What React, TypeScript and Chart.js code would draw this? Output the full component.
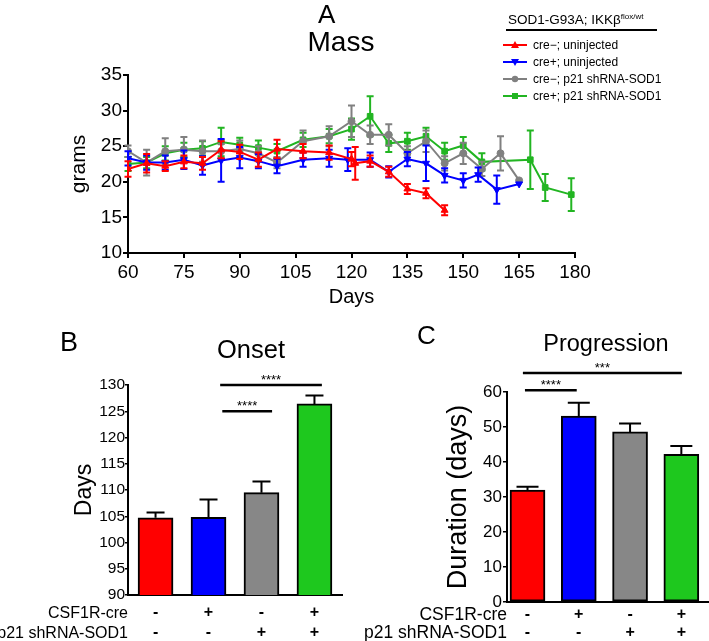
import React, { useEffect, useRef } from 'react';
import { Chart, registerables } from 'chart.js';

Chart.register(...registerables);

const FONT = "'Liberation Sans', Arial, Helvetica, sans-serif";
Chart.defaults.font.family = FONT;
Chart.defaults.color = '#000';

// ---------- Panel A: Mass ----------
const seriesLabels = ['cre\u2212; uninjected', 'cre+; uninjected', 'cre\u2212; p21 shRNA-SOD1', 'cre+; p21 shRNA-SOD1'];
const seriesColors = ['#FF0000', '#0000FF', '#808080', '#22B522'];

const redDays = [60, 65, 70, 75, 80, 85, 90, 95, 100, 107, 114, 120, 121, 125, 130, 135, 140, 145];
const redMass = [21.8, 22.6, 22.2, 22.8, 22.6, 24.5, 24.2, 23.1, 24.6, 24.3, 24.1, 23.2, 22.6, 22.9, 21.4, 19.0, 18.4, 16.0];
const redErr = [1.1, 1.3, 0.7, 0.9, 0.9, 1.2, 1.0, 1.0, 1.3, 1.0, 1.0, 1.0, 2.3, 0.8, 0.7, 0.7, 0.7, 0.7];

const blueDays = [60, 65, 70, 75, 80, 85, 90, 95, 100, 107, 114, 119, 125, 130, 135, 140, 145, 150, 154, 159, 165];
const blueMass = [23.3, 22.7, 22.7, 23.1, 22.3, 23.0, 23.4, 22.9, 22.2, 23.1, 23.3, 23.1, 23.1, 21.4, 23.2, 22.6, 20.9, 20.2, 21.0, 18.9, 19.7];
const blueErr = [1.0, 1.0, 1.0, 1.3, 1.3, 3.0, 1.5, 1.0, 1.0, 1.0, 1.2, 1.6, 1.0, 0.8, 1.0, 2.5, 1.0, 1.0, 1.0, 2.0, 0];

const grayDays = [60, 65, 70, 75, 80, 85, 90, 95, 100, 107, 114, 120, 125, 130, 135, 140, 145, 150, 155, 160, 165];
const grayMass = [24.3, 22.7, 24.3, 24.5, 24.3, 24.3, 24.6, 24.0, 22.7, 25.7, 26.4, 28.5, 26.6, 26.6, 24.0, 25.7, 22.6, 24.0, 21.8, 24.0, 20.2];
const grayErr = [0.8, 1.8, 1.8, 1.8, 1.5, 1.0, 1.2, 1.0, 0.8, 1.5, 1.4, 2.2, 1.3, 1.5, 1.0, 1.5, 1.0, 1.5, 1.0, 2.4, 0];

const greenDays = [60, 65, 70, 75, 80, 85, 90, 95, 100, 107, 114, 120, 125, 130, 135, 140, 145, 150, 155, 168, 172, 179];
const greenMass = [22.5, 22.7, 24.0, 24.5, 24.7, 25.6, 25.2, 24.8, 24.3, 25.9, 26.4, 27.4, 29.2, 25.4, 25.7, 26.4, 24.3, 25.1, 22.8, 23.1, 19.2, 18.2];
const greenErr = [1.0, 0.8, 1.0, 1.0, 1.0, 2.0, 1.0, 1.0, 1.0, 1.0, 1.0, 1.5, 2.8, 1.2, 1.2, 1.2, 1.2, 1.2, 1.2, 4.1, 1.9, 2.3];

const massDaysMin = 60;
const massDaysMax = 180;
const massDaysStep = 15;
const massMin = 10;
const massMax = 35;
const massStep = 5;

// ---------- Panels B & C ----------
const creRow = ['-', '+', '-', '+'];
const shRow = ['-', '-', '+', '+'];
const barColors = ['#FF0000', '#0000FF', '#878787', '#1EC81E'];

const onsetDays = [104.7, 104.8, 109.5, 126.4];
const onsetErr = [1.0, 3.4, 2.1, 1.6];
const onsetSig = [
  { from: 1.22, to: 3.14, value: 130, label: '****' },
  { from: 1.26, to: 2.2, value: 125, label: '****' },
];

const progressionDays = [32.0, 53.1, 48.6, 42.2];
const progressionErr = [0.9, 3.8, 2.4, 2.4];
const progressionSig = [
  { from: -0.09, to: 3.01, value: 65.4, label: '***' },
  { from: -0.05, to: 0.96, value: 60.5, label: '****' },
];

function makeErrorPlugin(errs: number[][], cap: number, useDatasetColor: boolean, upperOnly: boolean) {
  return {
    id: 'errorBars',
    afterDatasetDraw(chart: any, args: any) {
      const e = errs[args.index];
      if (!e) return;
      const meta = args.meta;
      const ys = chart.scales[meta.yAxisID];
      const ds = chart.data.datasets[args.index];
      const ctx = chart.ctx;
      ctx.save();
      ctx.lineWidth = 2;
      meta.data.forEach((el: any, i: number) => {
        const err = e[i];
        if (!err) return;
        const raw = ds.data[i];
        const v = typeof raw === 'object' ? raw.y : raw;
        ctx.strokeStyle = useDatasetColor ? ds.borderColor : '#000';
        const x = el.x;
        const top = ys.getPixelForValue(v + err);
        const bot = upperOnly ? el.y : ys.getPixelForValue(v - err);
        ctx.beginPath();
        ctx.moveTo(x, bot);
        ctx.lineTo(x, top);
        ctx.moveTo(x - cap / 2, top);
        ctx.lineTo(x + cap / 2, top);
        if (!upperOnly) {
          ctx.moveTo(x - cap / 2, bot);
          ctx.lineTo(x + cap / 2, bot);
        }
        ctx.stroke();
      });
      ctx.restore();
    },
  };
}

function makeSigPlugin(items: { from: number; to: number; value: number; label: string }[]) {
  return {
    id: 'sigBrackets',
    afterDraw(chart: any) {
      const ctx = chart.ctx;
      const xs = chart.scales.x;
      const ys = chart.scales.y;
      ctx.save();
      ctx.strokeStyle = '#000';
      ctx.fillStyle = '#000';
      ctx.lineWidth = 2.5;
      ctx.font = `13px ${FONT}`;
      ctx.textAlign = 'center';
      ctx.textBaseline = 'alphabetic';
      items.forEach((it) => {
        const x1 = xs.getPixelForValue(it.from);
        const x2 = xs.getPixelForValue(it.to);
        const y = ys.getPixelForValue(it.value);
        ctx.beginPath();
        ctx.moveTo(x1, y);
        ctx.lineTo(x2, y);
        ctx.stroke();
        ctx.fillText(it.label, (x1 + x2) / 2, y - 1);
      });
      ctx.restore();
    },
  };
}

function makeMassChart(canvas: HTMLCanvasElement) {
  const days = [redDays, blueDays, grayDays, greenDays];
  const mass = [redMass, blueMass, grayMass, greenMass];
  const errs = [redErr, blueErr, grayErr, greenErr];
  const styles = ['triangle', 'triangle', 'circle', 'rect'];
  const rotations = [0, 180, 0, 0];
  return new Chart(canvas, {
    type: 'line',
    data: {
      datasets: seriesLabels.map((label, s) => ({
        label,
        data: days[s].map((d, i) => ({ x: d, y: mass[s][i] })),
        borderColor: seriesColors[s],
        backgroundColor: seriesColors[s],
        borderWidth: 2,
        pointStyle: styles[s] as any,
        pointRotation: rotations[s],
        pointRadius: s === 2 ? 3.5 : 4,
        pointBorderWidth: 1,
        tension: 0,
      })),
    },
    options: {
      responsive: false,
      animation: false,
      events: [],
      layout: { padding: { left: 0, right: 134, top: 75, bottom: 7 } },
      plugins: { legend: { display: false }, tooltip: { enabled: false } },
      scales: {
        x: {
          type: 'linear',
          min: massDaysMin,
          max: massDaysMax,
          ticks: { stepSize: massDaysStep, color: '#000', font: { size: 19 }, padding: 3, maxRotation: 0, autoSkip: false },
          grid: { display: true, drawOnChartArea: false, drawTicks: true, tickLength: 5, color: '#000', lineWidth: 2 },
          border: { display: true, color: '#000', width: 2 },
          title: { display: true, text: 'Days', color: '#000', font: { size: 20 }, padding: { top: 0, bottom: 4 } },
          afterFit: (s: any) => { s.height = 60; },
        },
        y: {
          min: massMin,
          max: massMax,
          ticks: { stepSize: massStep, color: '#000', font: { size: 19 }, padding: 1 },
          grid: { display: true, drawOnChartArea: false, drawTicks: true, tickLength: 5, color: '#000', lineWidth: 2 },
          border: { display: true, color: '#000', width: 2 },
          title: { display: true, text: 'grams', color: '#000', font: { size: 21 }, padding: { top: 67, bottom: 0 } },
          afterFit: (s: any) => { s.width = 128; },
        },
      },
    } as any,
    plugins: [makeErrorPlugin(errs, 7, true, false)],
  });
}

function makeBarChart(
  canvas: HTMLCanvasElement,
  values: number[],
  errs: number[],
  sig: any[],
  cfg: any,
) {
  return new Chart(canvas, {
    type: 'bar',
    data: {
      datasets: [
        {
          data: values.map((v, i) => ({ x: i, y: v })),
          backgroundColor: barColors,
          borderColor: '#000',
          borderWidth: 2,
          borderSkipped: false,
          barThickness: 35,
        } as any,
      ],
    },
    options: {
      responsive: false,
      animation: false,
      events: [],
      layout: { padding: cfg.padding },
      plugins: { legend: { display: false }, tooltip: { enabled: false } },
      scales: {
        x: {
          type: 'linear',
          offset: false,
          min: cfg.xMin,
          max: cfg.xMax,
          afterBuildTicks: (s: any) => { s.ticks = creRow.map((_, i) => ({ value: i })); },
          ticks: {
            callback: (v: any) => [creRow[v], shRow[v]],
            color: '#000',
            font: { size: 16, weight: 'bold', lineHeight: cfg.rowHeight },
            padding: cfg.rowPad,
            maxRotation: 0,
            autoSkip: false,
          },
          grid: { display: false, offset: false, drawTicks: false, tickLength: 0 },
          border: { display: true, color: '#000', width: 2 },
          afterFit: (s: any) => { s.height = cfg.xHeight; },
        },
        y: {
          min: cfg.yMin,
          max: cfg.yMax,
          ticks: { stepSize: cfg.yStep, color: '#000', font: { size: cfg.tickSize }, padding: cfg.tickPad },
          grid: { display: true, drawOnChartArea: false, drawTicks: true, tickLength: cfg.tickLen, color: '#000', lineWidth: 1.5 },
          border: { display: true, color: '#000', width: 2 },
          title: { display: true, text: cfg.yTitle, color: '#000', font: { size: cfg.yTitleSize }, padding: { top: cfg.yTitlePad, bottom: 0 } },
          afterFit: (s: any) => { s.width = cfg.yWidth; },
        },
      },
    } as any,
    plugins: [makeErrorPlugin([errs], cfg.cap, false, true), makeSigPlugin(sig)],
  });
}

function Txt({ x, y, size, children, anchor = 'center', weight }: any) {
  const tx = anchor === 'center' ? '-50%' : anchor === 'end' ? '-100%' : '0';
  return (
    <div
      style={{
        position: 'absolute',
        left: x,
        top: y,
        transform: `translate(${tx}, -50%)`,
        fontSize: size,
        lineHeight: 1,
        whiteSpace: 'nowrap',
        fontWeight: weight,
      }}
    >
      {children}
    </div>
  );
}

function Marker({ kind, color }: { kind: string; color: string }) {
  let shape: any = null;
  if (kind === 'up') shape = <polygon points="12,1 16,8 8,8" fill={color} />;
  else if (kind === 'down') shape = <polygon points="12,9 16,2 8,2" fill={color} />;
  else if (kind === 'circle') shape = <circle cx={12} cy={5} r={3.2} fill={color} />;
  else shape = <rect x={9} y={2} width={6} height={6} fill={color} />;
  return (
    <svg width={24} height={10} style={{ display: 'block' }}>
      <line x1={0} y1={5} x2={24} y2={5} stroke={color} strokeWidth={2} />
      {shape}
    </svg>
  );
}

const legendKinds = ['up', 'down', 'circle', 'square'];
const legendY = [45, 62, 79, 96];

export default function App() {
  const aRef = useRef<HTMLCanvasElement>(null);
  const bRef = useRef<HTMLCanvasElement>(null);
  const cRef = useRef<HTMLCanvasElement>(null);

  useEffect(() => {
    const charts: Chart[] = [];
    if (aRef.current) charts.push(makeMassChart(aRef.current));
    if (bRef.current)
      charts.push(
        makeBarChart(bRef.current, onsetDays, onsetErr, onsetSig, {
          padding: { left: 0, right: 13, top: 55, bottom: 0 },
          xMin: -0.52, xMax: 3.52, xHeight: 46, rowHeight: '20px', rowPad: 8,
          yMin: 90, yMax: 130, yStep: 5, tickSize: 15.5, tickPad: 0, tickLen: 3,
          yTitle: 'Days', yTitleSize: 23, yTitlePad: 71, yWidth: 128, cap: 18,
        }),
      );
    if (cRef.current)
      charts.push(
        makeBarChart(cRef.current, progressionDays, progressionErr, progressionSig, {
          padding: { left: 0, right: 1, top: 62, bottom: 0 },
          xMin: -0.4, xMax: 3.52, xHeight: 39, rowHeight: '18px', rowPad: 4,
          yMin: 0, yMax: 60, yStep: 10, tickSize: 17, tickPad: 1, tickLen: 4,
          yTitle: 'Duration (days)', yTitleSize: 27, yTitlePad: 87, yWidth: 152, cap: 22,
        }),
      );
    return () => charts.forEach((c) => c.destroy());
  }, []);

  return (
    <div
      style={{
        position: 'absolute',
        left: 0,
        top: 0,
        width: 709,
        height: 641,
        overflow: 'hidden',
        background: '#fff',
        color: '#000',
        fontFamily: FONT,
      }}
    >
      <canvas ref={aRef} width={709} height={320} style={{ position: 'absolute', left: 0, top: 0 }} />
      <canvas ref={bRef} width={355} height={311} style={{ position: 'absolute', left: 0, top: 330 }} />
      <canvas ref={cRef} width={354} height={311} style={{ position: 'absolute', left: 355, top: 330 }} />

      {/* Panel A texts */}
      <Txt x={318} y={14} size={26} anchor="start">A</Txt>
      <Txt x={341} y={42} size={28}>Mass</Txt>
      <div style={{ position: 'absolute', left: 508, top: 20, transform: 'translateY(-50%)', fontSize: 13.5, lineHeight: 1, whiteSpace: 'nowrap' }}>
        {'SOD1-G93A; IKK\u03b2'}
        <span style={{ fontSize: 8, verticalAlign: 5 }}>flox/wt</span>
      </div>
      <div style={{ position: 'absolute', left: 506, top: 29, width: 151, height: 2, background: '#000' }} />
      {seriesLabels.map((label, i) => (
        <div
          key={label}
          style={{
            position: 'absolute',
            left: 503,
            top: legendY[i],
            transform: 'translateY(-50%)',
            display: 'flex',
            alignItems: 'center',
            fontSize: 12,
            lineHeight: 1,
            whiteSpace: 'nowrap',
          }}
        >
          <Marker kind={legendKinds[i]} color={seriesColors[i]} />
          <span style={{ marginLeft: 6 }}>{label}</span>
        </div>
      ))}

      {/* Panel B texts */}
      <Txt x={60} y={342} size={27} anchor="start">B</Txt>
      <Txt x={251} y={350} size={25.5}>Onset</Txt>
      <Txt x={128} y={613} size={16} anchor="end">CSF1R-cre</Txt>
      <Txt x={128} y={633} size={16} anchor="end">p21 shRNA-SOD1</Txt>

      {/* Panel C texts */}
      <Txt x={417} y={335} size={26} anchor="start">C</Txt>
      <Txt x={606} y={344} size={23.5}>Progression</Txt>
      <Txt x={507} y={615} size={17.5} anchor="end">CSF1R-cre</Txt>
      <Txt x={507} y={633} size={17.5} anchor="end">p21 shRNA-SOD1</Txt>
    </div>
  );
}
